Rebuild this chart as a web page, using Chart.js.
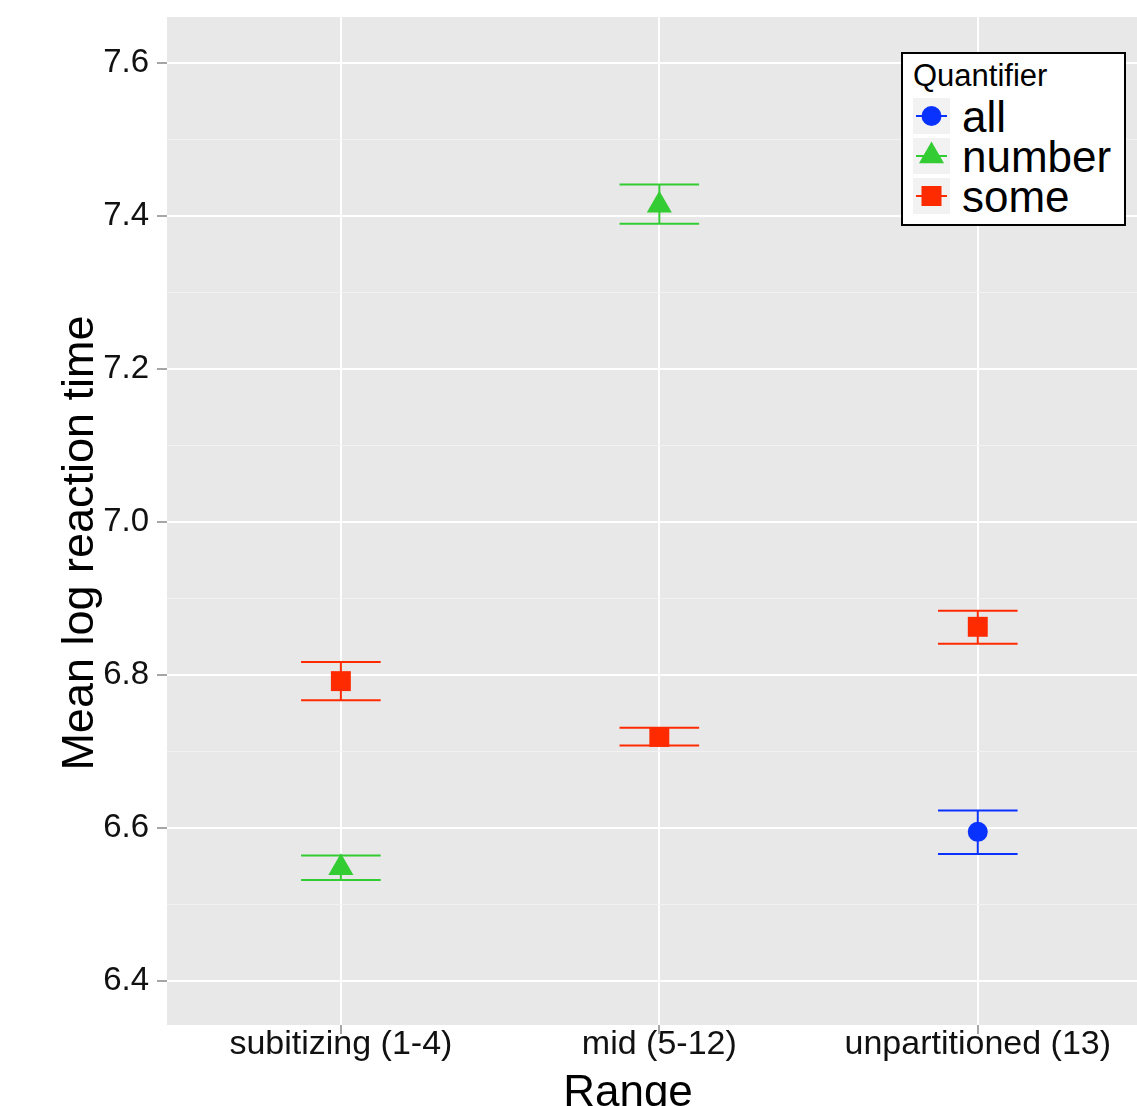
<!DOCTYPE html>
<html>
<head>
<meta charset="utf-8">
<script src="https://cdn.jsdelivr.net/npm/chart.js@4.4.1/dist/chart.umd.min.js"></script>
<style>
  html, body { margin: 0; padding: 0; background: #fff; overflow: hidden; }
  #wrap { position: relative; width: 1137px; height: 1106px; }
  #legend {
    position: absolute; left: 901px; top: 52px; width: 225px; height: 174px;
    box-sizing: border-box; border: 2px solid #000; background: #fff;
    font-family: "Liberation Sans", Arial, sans-serif; color: #000;
  }
  #legend .title { position: absolute; left: 10px; top: 6px; font-size: 31px; line-height: 31px; }
  #legend .row { position: absolute; left: 10px; height: 40px; display: flex; align-items: center; }
  #legend .row svg { display: block; }
  #legend .label { margin-left: 12px; font-size: 44px; line-height: 40px; position: relative; top: 1px; }
</style>
</head>
<body>
<div id="wrap">
  <canvas id="chart" width="1137" height="1106"></canvas>
  <div id="legend"></div>
</div>
<script>
const RANGES = ["subitizing (1-4)", "mid (5-12)", "unpartitioned (13)"];
const QUANTIFIERS = ["all", "number", "some"];
const Y_TICKS = [6.4, 6.6, 6.8, 7.0, 7.2, 7.4, 7.6];
const Y_MINOR = [6.5, 6.7, 6.9, 7.1, 7.3, 7.5];

const ALL_MEAN = [null, null, 6.595];
const ALL_LOW = [null, null, 6.566];
const ALL_HIGH = [null, null, 6.623];

const NUMBER_MEAN = [6.548, 7.414, null];
const NUMBER_LOW = [6.532, 7.390, null];
const NUMBER_HIGH = [6.564, 7.441, null];

const SOME_MEAN = [6.792, 6.719, 6.863];
const SOME_LOW = [6.767, 6.708, 6.841];
const SOME_HIGH = [6.817, 6.731, 6.884];

const COLORS = { all: "#0A32FF", number: "#33CC33", some: "#FF2B00" };
const FONT = "'Liberation Sans', Arial, sans-serif";
const WHISKER = 0.125;

function isMajor(v) {
  return Y_TICKS.some((t) => Math.abs(t - v) < 1e-6);
}

function toPoints(means) {
  return means.map((m, i) => (m === null ? null : { x: i + 1, y: m })).filter(Boolean);
}

// no extra room for overhanging tick labels, the panel is fixed
function noPadding(s) {
  s.paddingLeft = 0;
  s.paddingRight = 0;
  s.paddingTop = 0;
  s.paddingBottom = 0;
}

const panelBg = {
  id: "panelBg",
  beforeDraw(chart) {
    const { ctx, chartArea: a } = chart;
    ctx.save();
    ctx.fillStyle = "#E8E8E8";
    ctx.fillRect(a.left, a.top, a.right - a.left, a.bottom - a.top);
    ctx.restore();
  }
};

const errorBars = {
  id: "errorBars",
  beforeDatasetsDraw(chart) {
    const { ctx } = chart;
    const xs = chart.scales.x;
    const ys = chart.scales.y;
    chart.data.datasets.forEach((ds) => {
      ctx.save();
      ctx.strokeStyle = ds.borderColor;
      ctx.lineWidth = 2;
      ds.means.forEach((m, i) => {
        if (m === null) return;
        const x = xs.getPixelForValue(i + 1);
        const x0 = xs.getPixelForValue(i + 1 - WHISKER);
        const x1 = xs.getPixelForValue(i + 1 + WHISKER);
        const yl = ys.getPixelForValue(ds.low[i]);
        const yh = ys.getPixelForValue(ds.high[i]);
        ctx.beginPath();
        ctx.moveTo(x, yl); ctx.lineTo(x, yh);
        ctx.moveTo(x0, yl); ctx.lineTo(x1, yl);
        ctx.moveTo(x0, yh); ctx.lineTo(x1, yh);
        ctx.stroke();
      });
      ctx.restore();
    });
  }
};

const axisTitles = {
  id: "axisTitles",
  afterDraw(chart) {
    const { ctx } = chart;
    ctx.save();
    ctx.fillStyle = "#000";
    ctx.font = "44px " + FONT;
    ctx.textAlign = "center";
    ctx.textBaseline = "alphabetic";
    ctx.fillText("Range", 628, 1106);
    ctx.translate(93, 543);
    ctx.rotate(-Math.PI / 2);
    ctx.font = "45px " + FONT;
    ctx.fillText("Mean log reaction time", 0, 0);
    ctx.restore();
  }
};

const datasets = [
  { label: "all", means: ALL_MEAN, low: ALL_LOW, high: ALL_HIGH, style: "circle", radius: 10 },
  { label: "number", means: NUMBER_MEAN, low: NUMBER_LOW, high: NUMBER_HIGH, style: "triangle", radius: 14.5 },
  { label: "some", means: SOME_MEAN, low: SOME_LOW, high: SOME_HIGH, style: "rect", radius: 14.1 }
].map((d) => ({
  label: d.label,
  data: toPoints(d.means),
  means: d.means,
  low: d.low,
  high: d.high,
  pointStyle: d.style,
  pointRadius: d.radius,
  pointHoverRadius: d.radius,
  pointBorderWidth: 0,
  backgroundColor: COLORS[d.label],
  borderColor: COLORS[d.label],
  showLine: false
}));

new Chart(document.getElementById("chart"), {
  type: "scatter",
  data: { datasets },
  options: {
    responsive: false,
    animation: false,
    devicePixelRatio: 1,
    layout: { autoPadding: false, padding: { top: 17, right: 0, bottom: 0, left: 0 } },
    plugins: {
      legend: { display: false },
      tooltip: { enabled: false }
    },
    scales: {
      x: {
        type: "linear",
        min: 0.454,
        max: 3.5,
        afterFit: (s) => { s.height = 81; noPadding(s); },
        afterBuildTicks: (s) => { s.ticks = RANGES.map((_, i) => ({ value: i + 1 })); },
        border: { display: false },
        grid: { color: "#FFFFFF", lineWidth: 2, tickColor: "#888888", tickWidth: 1.5, tickLength: 9 },
        ticks: {
          autoSkip: false,
          maxRotation: 0,
          padding: -6,
          color: "#111",
          font: { family: FONT, size: 34, lineHeight: 1 },
          callback: (v) => RANGES[Math.round(v) - 1]
        }
      },
      y: {
        min: 6.3425,
        max: 7.6601,
        afterFit: (s) => { s.width = 167; noPadding(s); },
        afterBuildTicks: (s) => {
          s.ticks = [...Y_TICKS, ...Y_MINOR].sort((a, b) => a - b).map((v) => ({ value: v }));
        },
        border: { display: false },
        grid: {
          color: (c) => (isMajor(c.tick.value) ? "#FFFFFF" : "#F2F2F2"),
          lineWidth: (c) => (isMajor(c.tick.value) ? 2 : 1),
          tickColor: (c) => (isMajor(c.tick.value) ? "#888888" : "rgba(0,0,0,0)"),
          tickWidth: 1.5,
          tickLength: 10
        },
        ticks: {
          autoSkip: false,
          padding: 8,
          color: "#111",
          font: { family: FONT, size: 33, lineHeight: 1 },
          callback: (v) => (isMajor(v) ? v.toFixed(1) : "")
        }
      }
    }
  },
  plugins: [panelBg, errorBars, axisTitles]
});

function keySvg(name) {
  const c = COLORS[name];
  let marker = "";
  if (name === "all") marker = `<circle cx="18.5" cy="18" r="10" fill="${c}"/>`;
  if (name === "number") marker = `<polygon points="18.5,3.5 31,25.25 6,25.25" fill="${c}"/>`;
  if (name === "some") marker = `<rect x="8.5" y="8" width="20" height="20" fill="${c}"/>`;
  return `<svg width="37" height="36"><rect width="37" height="36" fill="#F2F2F2"/>` +
    `<line x1="3" y1="18" x2="34" y2="18" stroke="${c}" stroke-width="2"/>${marker}</svg>`;
}

const legendEl = document.getElementById("legend");
legendEl.innerHTML = `<div class="title">Quantifier</div>` +
  QUANTIFIERS.map((q, i) => `
    <div class="row" style="top:${42 + i * 40}px">
      ${keySvg(q)}<span class="label">${q}</span>
    </div>`).join("");
</script>
</body>
</html>
